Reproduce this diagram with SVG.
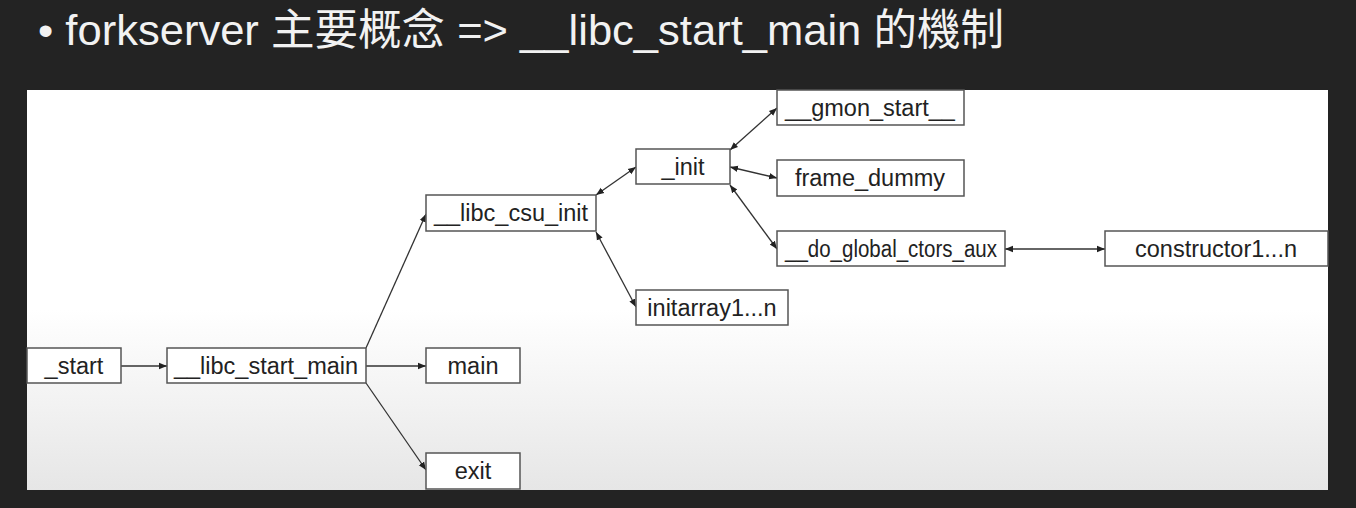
<svg xmlns="http://www.w3.org/2000/svg" width="1356" height="508" viewBox="0 0 1356 508">
<defs>
<linearGradient id="bg" x1="0" y1="90" x2="0" y2="490" gradientUnits="userSpaceOnUse">
<stop offset="0" stop-color="#ffffff"/>
<stop offset="0.55" stop-color="#ffffff"/>
<stop offset="1" stop-color="#e6e6e6"/>
</linearGradient>
<marker id="ah" viewBox="0 0 10 10" refX="10" refY="5" markerWidth="8" markerHeight="8" orient="auto-start-reverse" markerUnits="userSpaceOnUse">
<path d="M0,1 L10,5 L0,9 z" fill="#222"/>
</marker>
<style>
.box{fill:#fff;stroke:#555;stroke-width:1.5}
.lbl{font-family:"Liberation Sans",Arial,sans-serif;font-size:23.5px;fill:#222;text-anchor:middle;dominant-baseline:central}
.c{stroke:#333;stroke-width:1.3;fill:none}
.one{marker-end:url(#ah)}
.two{marker-start:url(#ah);marker-end:url(#ah)}
</style>
</defs>
<rect x="0" y="0" width="1356" height="508" fill="#232323"/>
<text x="38" y="45" font-family="'Liberation Sans','Noto Sans CJK TC',sans-serif" font-size="43" fill="#f2f2f2" textLength="966" lengthAdjust="spacingAndGlyphs">• forkserver 主要概念 =&gt; __libc_start_main 的機制</text>
<rect x="27" y="90" width="1301" height="400" fill="url(#bg)"/>
<g id="connectors">
<line class="c one" x1="121" y1="366" x2="167" y2="366"/>
<line class="c one" x1="366" y1="366" x2="426" y2="366"/>
<line class="c one" x1="366" y1="383" x2="426" y2="470"/>
<line class="c one" x1="366" y1="348" x2="426" y2="214"/>
<line class="c two" x1="596" y1="195" x2="636" y2="167"/>
<line class="c two" x1="596" y1="232" x2="636" y2="307"/>
<line class="c two" x1="730" y1="150" x2="777" y2="108"/>
<line class="c two" x1="730" y1="167" x2="777" y2="178"/>
<line class="c two" x1="730" y1="185" x2="777" y2="249"/>
<line class="c two" x1="1005" y1="249" x2="1105" y2="249"/>
</g>
<g id="start"><rect class="box" x="27" y="348" width="94" height="35"/><text class="lbl" x="74" y="366">_start</text></g>
<g id="libc_start_main"><rect class="box" x="167" y="348" width="199" height="35"/><text class="lbl" x="266" y="366">__libc_start_main</text></g>
<g id="main"><rect class="box" x="426" y="348" width="94" height="35"/><text class="lbl" x="473" y="366">main</text></g>
<g id="exit"><rect class="box" x="426" y="453" width="94" height="36"/><text class="lbl" x="473" y="471">exit</text></g>
<g id="libc_csu_init"><rect class="box" x="426" y="195" width="170" height="36"/><text class="lbl" x="511" y="213">__libc_csu_init</text></g>
<g id="init"><rect class="box" x="636" y="149" width="94" height="35"/><text class="lbl" x="683" y="167">_init</text></g>
<g id="initarray"><rect class="box" x="636" y="290" width="152" height="35"/><text class="lbl" x="712" y="308">initarray1...n</text></g>
<g id="gmon_start"><rect class="box" x="777" y="90" width="187" height="35"/><text class="lbl" x="870" y="108">__gmon_start__</text></g>
<g id="frame_dummy"><rect class="box" x="777" y="160" width="187" height="36"/><text class="lbl" x="870" y="178">frame_dummy</text></g>
<g id="do_global_ctors_aux"><rect class="box" x="777" y="231" width="228" height="35"/><text class="lbl" x="891" y="249" textLength="212" lengthAdjust="spacingAndGlyphs">__do_global_ctors_aux</text></g>
<g id="constructor"><rect class="box" x="1105" y="231" width="223" height="35"/><text class="lbl" x="1216" y="249">constructor1...n</text></g>
</svg>
